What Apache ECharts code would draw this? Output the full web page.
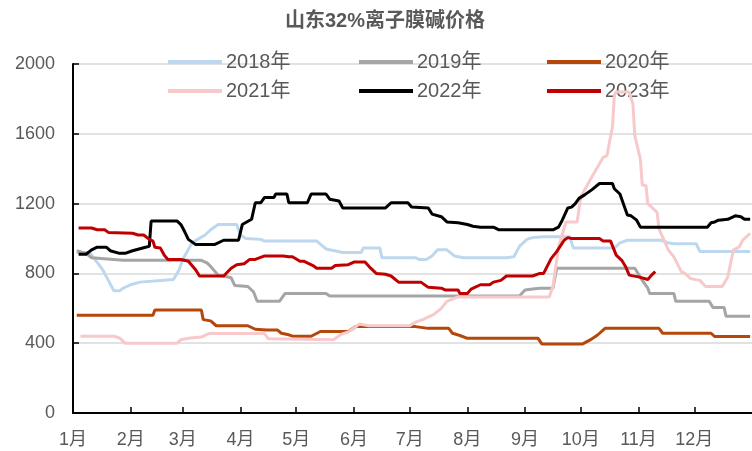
<!DOCTYPE html>
<html>
<head>
<meta charset="utf-8">
<script src="https://cdn.jsdelivr.net/npm/echarts@6/dist/echarts.min.js"></script>
<style>
  html, body { margin: 0; padding: 0; background: #fff; }
  #chart { width: 752px; height: 451px; }
</style>
</head>
<body>
<div id="chart"></div>
<script>
// 山东32%离子膜碱价格 (元/吨), by day of year: [day, price]
const title = '山东32%离子膜碱价格';
const years = ['2018年', '2019年', '2020年', '2021年', '2022年', '2023年'];
const monthStarts = [0, 31, 59, 90, 120, 151, 181, 212, 243, 273, 304, 334];
const monthLabels = ['1月', '2月', '3月', '4月', '5月', '6月', '7月', '8月', '9月', '10月', '11月', '12月'];
const yTicks = [0, 400, 800, 1200, 1600, 2000];

const p2018 = [[2,920],[9,920],[16,820],[22,700],[25,700],[27,715],[31,735],[36,750],[54,765],[57,820],[59,880],[64,975],[67,995],[71,1020],[74,1050],[78,1080],[88,1080],[90,1020],[93,1000],[101,995],[103,985],[120,985],[131,985],[136,940],[145,920],[155,920],[156,945],[165,945],[166,890],[184,890],[186,880],[190,880],[193,900],[196,935],[201,935],[205,900],[210,890],[233,890],[237,895],[240,955],[244,995],[247,1005],[253,1010],[267,1010],[269,945],[291,945],[294,975],[298,990],[316,990],[320,975],[323,970],[335,970],[337,925],[364,925]];

const p2019 = [[2,930],[7,915],[10,890],[27,875],[69,875],[72,860],[74,840],[78,790],[81,785],[85,775],[87,730],[94,725],[97,695],[99,640],[111,640],[114,685],[136,685],[138,670],[240,670],[243,705],[247,710],[251,715],[258,715],[260,830],[302,830],[306,760],[309,715],[310,685],[323,685],[324,640],[342,640],[344,605],[350,605],[351,555],[364,555]];

const p2020 = [[2,560],[43,560],[44,590],[69,590],[70,535],[74,528],[77,500],[94,500],[98,480],[104,475],[110,475],[112,457],[116,448],[118,440],[128,440],[133,467],[148,467],[152,495],[184,495],[191,485],[202,485],[204,457],[208,444],[212,428],[250,428],[252,396],[274,396],[278,419],[282,447],[286,485],[315,485],[317,457],[343,457],[345,438],[364,438]];

const p2021 = [[4,440],[22,440],[25,430],[28,400],[56,400],[58,420],[63,430],[69,435],[73,455],[103,455],[105,425],[140,420],[144,450],[148,465],[154,510],[159,500],[181,500],[184,520],[188,535],[194,565],[198,600],[201,640],[207,665],[256,665],[258,725],[261,950],[265,1095],[271,1095],[273,1240],[278,1335],[285,1465],[287,1475],[290,1640],[291,1820],[292,1840],[299,1840],[301,1770],[302,1590],[305,1455],[306,1305],[308,1305],[309,1200],[314,1150],[315,1055],[320,935],[323,895],[327,810],[329,800],[332,770],[337,760],[340,725],[349,725],[352,780],[355,935],[358,950],[360,990],[364,1030]];

const p2022 = [[3,910],[7,910],[10,935],[13,950],[18,950],[20,930],[25,915],[28,915],[32,930],[39,950],[41,955],[42,1100],[56,1100],[58,1080],[60,1040],[62,995],[66,965],[76,965],[81,990],[89,990],[91,1080],[96,1110],[98,1205],[101,1205],[103,1235],[108,1235],[109,1255],[115,1255],[116,1205],[126,1205],[128,1255],[136,1255],[138,1225],[143,1215],[145,1175],[168,1175],[171,1205],[180,1205],[182,1180],[191,1175],[193,1140],[198,1125],[201,1095],[207,1090],[212,1080],[215,1070],[219,1065],[226,1065],[229,1050],[258,1050],[261,1065],[263,1105],[266,1175],[268,1180],[270,1200],[272,1230],[275,1250],[279,1280],[283,1315],[290,1315],[291,1285],[294,1255],[298,1135],[300,1130],[303,1105],[305,1065],[341,1065],[343,1090],[345,1095],[347,1105],[352,1110],[356,1130],[359,1125],[361,1110],[364,1110]];

const p2023 = [[3,1060],[10,1060],[13,1050],[17,1050],[19,1035],[32,1030],[35,1020],[38,1020],[41,995],[43,985],[44,950],[47,945],[49,905],[51,880],[58,880],[62,870],[66,820],[68,785],[81,785],[85,830],[88,850],[92,855],[95,880],[98,880],[103,900],[113,900],[116,895],[118,895],[122,870],[124,870],[129,845],[131,830],[139,830],[141,845],[148,850],[151,865],[157,865],[160,830],[163,800],[168,795],[171,785],[175,750],[187,750],[191,720],[198,715],[200,705],[207,705],[208,685],[212,685],[214,710],[219,735],[224,735],[226,750],[230,760],[233,785],[247,785],[251,800],[253,800],[257,885],[260,925],[264,990],[266,1005],[268,1000],[283,1000],[285,985],[289,985],[292,905],[295,875],[297,840],[299,790],[304,780],[309,765],[311,790],[313,810]];

const seriesData = [p2018, p2019, p2020, p2021, p2022, p2023];
const colors = ['#bdd7ee', '#a5a5a5', '#b5470b', '#f7c9ca', '#000000', '#c00000'];

const FONT = '"Liberation Sans", "Noto Sans CJK SC", sans-serif';
const TEXT = '#595959';

// legend: three columns, two rows
const legendCols = [168, 359, 547];
const legendRows = [52, 81];
const legends = years.map((name, i) => ({
  data: [name],
  left: legendCols[i % 3],
  top: legendRows[Math.floor(i / 3)],
  icon: 'rect',
  itemWidth: 54,
  itemHeight: 4,
  padding: 0,
  textStyle: { fontSize: 20, color: TEXT, fontFamily: FONT, padding: [0, 0, 0, -1] }
}));

const chart = echarts.init(document.getElementById('chart'), null, { renderer: 'canvas' });
chart.setOption({
  animation: false,
  backgroundColor: '#fff',
  color: colors,
  title: {
    text: title,
    left: 285,
    top: 11,
    padding: 0,
    textStyle: { fontSize: 20, fontWeight: 'bold', color: TEXT, fontFamily: FONT }
  },
  legend: legends,
  grid: { left: 73, top: 64, width: 689.6, height: 349 },
  xAxis: {
    type: 'value',
    min: 0,
    max: 365,
    axisLine: { show: true, onZero: false, lineStyle: { color: '#000', width: 2 } },
    axisTick: { show: true, inside: true, length: 6, customValues: monthStarts, lineStyle: { color: '#000', width: 1.5 } },
    axisLabel: {
      customValues: monthStarts,
      formatter: v => monthLabels[monthStarts.indexOf(v)] || '',
      fontSize: 18, color: TEXT, fontFamily: FONT, margin: 18
    },
    splitLine: { show: false }
  },
  yAxis: {
    type: 'value',
    min: yTicks[0],
    max: yTicks[yTicks.length - 1],
    interval: 400,
    axisLine: { show: true, lineStyle: { color: '#000', width: 2 } },
    axisTick: { show: true, inside: true, length: 6, lineStyle: { color: '#000', width: 1.5 } },
    axisLabel: { fontSize: 18, color: TEXT, fontFamily: FONT, margin: 18, formatter: v => String(v) },
    splitLine: { show: true, lineStyle: { color: '#d9d9d9', width: 1.5 } }
  },
  series: years.map((name, i) => ({
    name,
    type: 'line',
    data: seriesData[i],
    showSymbol: false,
    symbol: 'none',
    lineStyle: { width: 3, color: colors[i] },
    itemStyle: { color: colors[i] },
    z: 2 + i
  }))
});
</script>
</body>
</html>
